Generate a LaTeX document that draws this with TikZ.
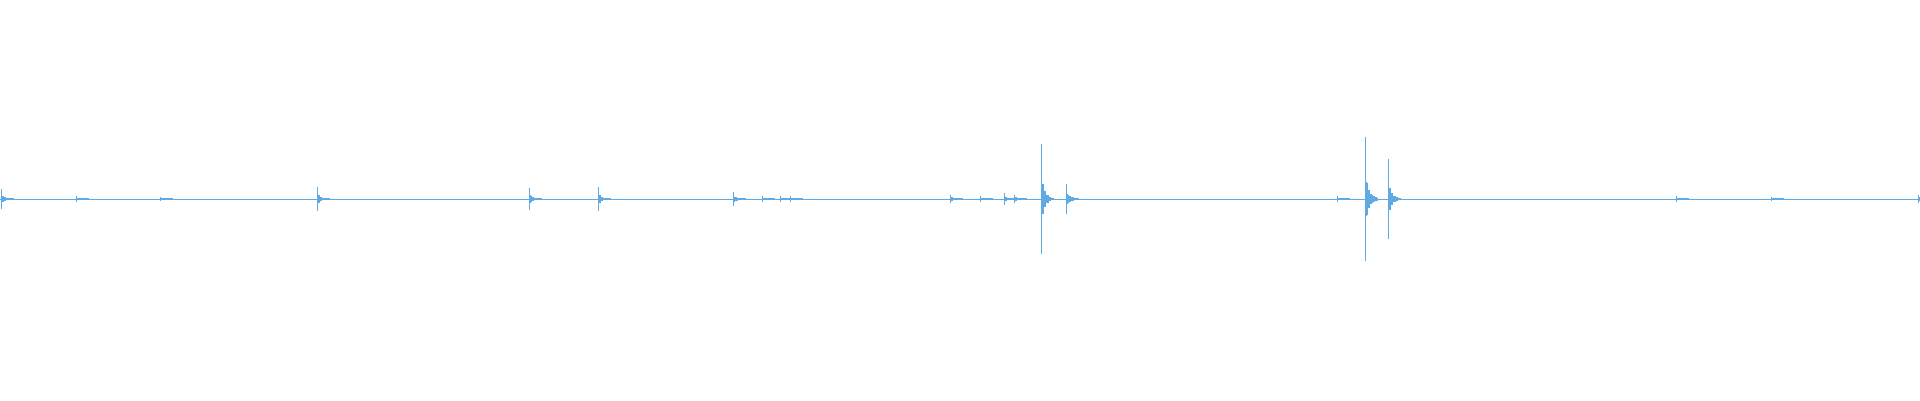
\documentclass[tikz,border=0pt]{standalone}
\definecolor{wave}{RGB}{96,170,228}
\begin{document}
\begin{tikzpicture}[x=1pt,y=-1pt,wv/.style={draw=wave,line width=0.8pt}]
\useasboundingbox (0,0) rectangle (1920,400);
\coordinate (L) at (0,199);
\coordinate (R) at (1920,199);
\draw[wv] (L) -- (R);
\foreach \x/\a in {1/10,76/3,160/2,317/12,529/11,598/12,733/7,762/3,780/3,790/3,950/4,980/3,1004/6,1014/4,1041/55,1066/15,1337/3,1365/62,1388/40,1676/3,1771/2,1918/4}{
  \draw[wv] (\x,199-\a) -- (\x,199+\a);
  \foreach \k in {1,...,12}{
    \pgfmathsetmacro{\h}{\a*0.45*exp(-\k/3.5)*(0.6+0.4*mod(\k*7,5)/4)+0.6}
    \draw[wv,line width=0.6pt] (\x+\k,199-\h) -- (\x+\k,199+\h);
  }
}
\end{tikzpicture}
\end{document}
